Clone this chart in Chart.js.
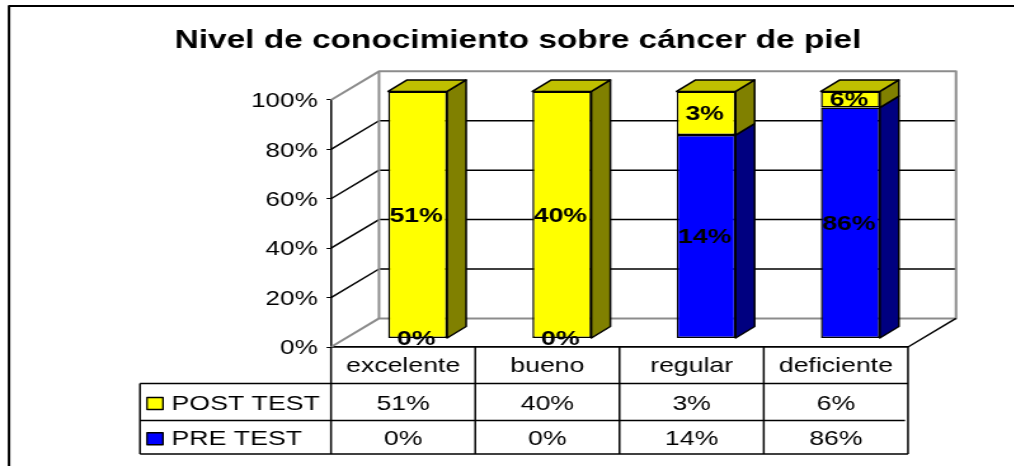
<!DOCTYPE html>
<html>
<head>
<meta charset="utf-8">
<style>
html,body{margin:0;padding:0;background:#fff;overflow:hidden;width:1014px;height:466px}
#wrap{position:absolute;left:0;top:0;width:798px;height:466px;transform-origin:0 0;transform:scaleX(1.27)}
</style>
<script src="https://cdn.jsdelivr.net/npm/chart.js@4/dist/chart.umd.min.js"></script>
</head>
<body>
<div id="wrap"><canvas id="c" width="799" height="466"></canvas></div>
<script>
const categories = ['excelente','bueno','regular','deficiente'];
const preTest = [0,0,14,86];
const postTest = [51,40,3,6];
const seriesNames = ['POST TEST','PRE TEST'];
const tableRows = [postTest, preTest];

const SX = 1.27;
const CW = 799;
const px = v => v / SX;               // reference x pixels -> canvas x
const FONT = 'Arial, "Liberation Sans", sans-serif';
const total = categories.map((_, i) => preTest[i] + postTest[i]);
const share = arr => arr.map((v, i) => v / total[i] * 100);

const DEPTH = {x: px(48), y: 28.6};   // floor depth
const BAR_OFF = {x: px(14.5), y: 8.5};// bars sit part way into the floor
const BAR_D = {x: px(19), y: 11.5};   // depth of each bar
const PAD_LEFT = 100.8;

function poly(ctx, pts, fill, stroke, lw){
  ctx.beginPath();
  pts.forEach((p, i) => i ? ctx.lineTo(p[0], p[1]) : ctx.moveTo(p[0], p[1]));
  if (fill){ ctx.closePath(); ctx.fillStyle = fill; ctx.fill(); }
  if (stroke){ ctx.strokeStyle = stroke; ctx.lineWidth = lw; ctx.lineJoin = 'round'; ctx.stroke(); }
}

const scene = {
  id: 'scene',
  beforeDatasetsDraw(chart){
    const {ctx, scales:{x, y}} = chart;
    const L = x.left, R = x.right, B = y.bottom;
    ctx.save();
    // frame
    poly(ctx, [[px(9), 466],[px(9), 6],[chart.width, 6]], null, '#000', 2);
    // gridlines on side + back wall
    y.ticks.forEach(t => {
      const yy = y.getPixelForValue(t.value);
      if (t.value === 0 || t.value === 100) return;
      poly(ctx, [[L, yy],[L + DEPTH.x, yy - DEPTH.y],[R + DEPTH.x, yy - DEPTH.y]], null, '#000', 1.5);
    });
    const T = y.getPixelForValue(100);
    // wall outline
    poly(ctx, [[L, T],[L + DEPTH.x, T - DEPTH.y],[R + DEPTH.x, T - DEPTH.y],[R + DEPTH.x, B - DEPTH.y],[L + DEPTH.x, B - DEPTH.y],[L, B]], null, '#8c8c8c', 2);
    poly(ctx, [[L + DEPTH.x, T - DEPTH.y],[L + DEPTH.x, B - DEPTH.y]], null, '#8c8c8c', 2);
    // floor right edge
    poly(ctx, [[R, B],[R + DEPTH.x, B - DEPTH.y]], null, '#000', 1.5);
    ctx.restore();

    ctx.save();
    ctx.translate(BAR_OFF.x, -BAR_OFF.y);
    chart.data.datasets.forEach((ds, di) => {
      chart.getDatasetMeta(di).data.forEach(el => {
        if (Math.abs(el.base - el.y) < 0.01) return;
        const r = el.x + el.width / 2, l = el.x - el.width / 2;
        poly(ctx, [[r, el.y],[r + BAR_D.x, el.y - BAR_D.y],[r + BAR_D.x, el.base - BAR_D.y],[r, el.base]], ds.sideColor, '#000', 1.5);
        if (di === chart.data.datasets.length - 1)
          poly(ctx, [[l, el.y],[r, el.y],[r + BAR_D.x, el.y - BAR_D.y],[l + BAR_D.x, el.y - BAR_D.y]], ds.topColor, '#000', 1.5);
      });
    });
    ctx.restore();
    ctx.save();
    ctx.translate(BAR_OFF.x, -BAR_OFF.y);
  },
  afterDatasetsDraw(chart){
    const {ctx} = chart;
    ctx.font = 'bold 21px ' + FONT;
    ctx.fillStyle = '#000';
    ctx.textAlign = 'center';
    ctx.textBaseline = 'middle';
    chart.data.datasets.forEach((ds, di) => {
      chart.getDatasetMeta(di).data.forEach((el, i) => {
        ctx.fillText(ds.raw[i] + '%', el.x - px(1.5), (el.y + el.base) / 2 + 1);
      });
    });
    ctx.restore();
  },
  afterDraw(chart){
    const {ctx, scales:{x, y}} = chart;
    const rows = [347, 383.5, 420.5, 454];
    const left = px(140), cw = (x.right - x.left) / categories.length;
    ctx.save();
    ctx.strokeStyle = '#000';
    // horizontals
    poly(ctx, [[left, rows[1]],[x.right, rows[1]]], null, '#000', 1.5);
    poly(ctx, [[left, rows[2]],[px(905), rows[2]]], null, '#000', 1.5);
    poly(ctx, [[left, rows[3]],[x.right, rows[3]]], null, '#000', 1.5);
    // verticals
    for (let i = 0; i <= categories.length; i++){
      const xx = x.left + i * cw;
      poly(ctx, [[xx, rows[0]],[xx, rows[3]]], null, '#000', 1.5);
    }
    poly(ctx, [[left, rows[1]],[left, rows[3]]], null, '#000', 1.5);
    // body
    ctx.font = '21px ' + FONT;
    ctx.textBaseline = 'middle';
    seriesNames.forEach((name, r) => {
      const cy = (rows[r + 1] + rows[r + 2]) / 2 + 2;
      ctx.textAlign = 'left';
      ctx.fillStyle = '#000';
      ctx.fillText(name, px(171.5), cy);
      ctx.fillStyle = r === 0 ? '#ffff00' : '#0000ff';
      ctx.fillRect(px(147), cy - 6.5, px(16), 12);
      ctx.lineWidth = 1.3;
      ctx.strokeRect(px(147), cy - 6.5, px(16), 12);
      ctx.fillStyle = '#000';
      ctx.textAlign = 'center';
      tableRows[r].forEach((v, i) => ctx.fillText(v + '%', x.getPixelForValue(i), cy));
    });
    ctx.restore();
  }
};

new Chart(document.getElementById('c'), {
  type: 'bar',
  data: {
    labels: categories,
    datasets: [
      {label: seriesNames[1], raw: preTest, data: share(preTest), backgroundColor: '#0000ff', sideColor: '#000080', topColor: '#0000c0', borderColor: '#000', borderWidth: 1.5, borderSkipped: false, clip: false, barPercentage: 59/144.25, categoryPercentage: 1},
      {label: seriesNames[0], raw: postTest, data: share(postTest), backgroundColor: '#ffff00', sideColor: '#808000', topColor: '#c0c000', borderColor: '#000', borderWidth: 1.5, borderSkipped: false, clip: false, barPercentage: 59/144.25, categoryPercentage: 1}
    ]
  },
  plugins: [scene],
  options: {
    responsive: false,
    animation: false,
    devicePixelRatio: 1,
    layout: {padding: {left: PAD_LEFT, top: 0, right: CW - px(908), bottom: 79}},
    plugins: {
      legend: {display: false},
      tooltip: {enabled: false},
      title: {
        display: true,
        text: 'Nivel de conocimiento sobre cáncer de piel',
        color: '#000',
        font: {family: FONT, size: 26.3, weight: 'bold', lineHeight: 1.2},
        padding: {top: 25.2, bottom: 43.2}
      }
    },
    scales: {
      x: {
        stacked: true,
        grid: {display: true, drawOnChartArea: false, drawTicks: false, color: '#000', offset: true},
        border: {display: true, color: '#000', width: 1.7},
        ticks: {color: '#000', font: {family: FONT, size: 21}, padding: 7, maxRotation: 0},
        afterFit(s){ s.height = 40; }
      },
      y: {
        stacked: true,
        min: 0, max: 100,
        grid: {display: true, drawOnChartArea: false, drawTicks: true, tickLength: 3.5, tickColor: '#000', color: '#000'},
        border: {display: true, color: '#000', width: 1.5},
        ticks: {stepSize: 20, color: '#000', font: {family: FONT, size: 20.5}, padding: 7, labelOffset: 1.5, callback: v => v + '%'},
        afterFit(s){ s.width = px(331) - PAD_LEFT; }
      }
    }
  }
});
</script>
</body>
</html>
